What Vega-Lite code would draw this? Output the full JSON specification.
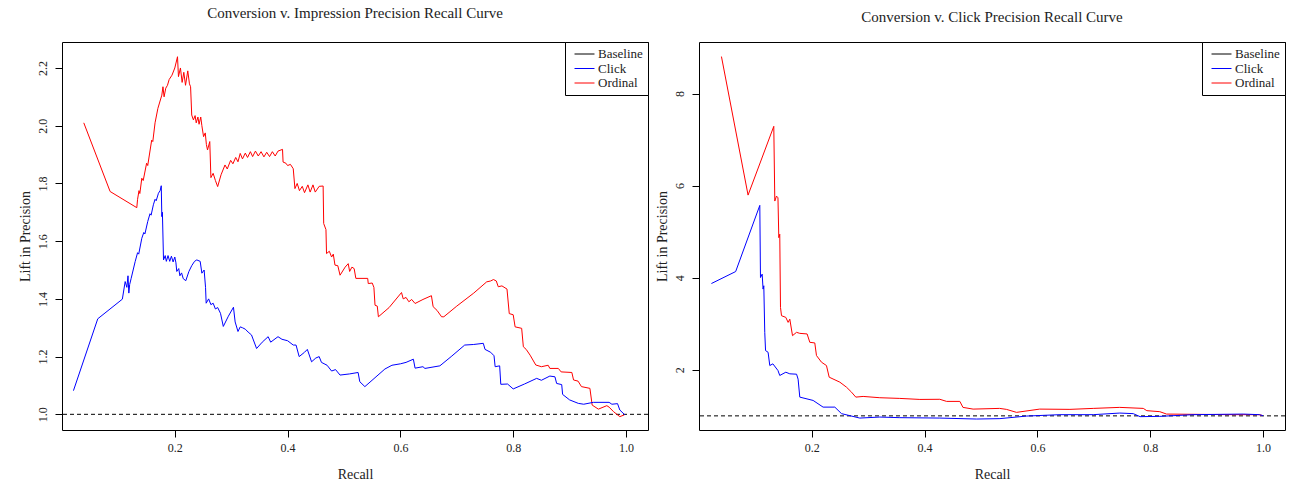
{
  "$schema": "https://vega.github.io/schema/vega-lite/v6.json",
  "padding": {"left": 17, "top": 5, "right": 8, "bottom": 4},
  "background": "white",
  "config": {
    "font": "Liberation Serif",
    "view": {"stroke": "black", "strokeWidth": 1},
    "axis": {"domain": false, "grid": false, "tickColor": "black", "tickSize": 7, "labelFont": "Liberation Serif", "labelFontSize": 12, "labelColor": "#222", "titleFont": "Liberation Serif", "titleFontSize": 14, "titleFontWeight": "normal", "titleColor": "#222"},
    "axisX": {"labelPadding": 5, "titleY": 44, "titleBaseline": "middle"},
    "axisY": {"labelAngle": -90, "labelAlign": "center", "labelBaseline": "bottom", "labelPadding": 6, "titleX": -37, "titleBaseline": "middle"},
    "title": {"font": "Liberation Serif", "fontSize": 15, "fontWeight": "normal", "color": "#222", "anchor": "middle"},
    "legend": {"orient": "top-right", "offset": 0, "strokeColor": "black", "fillColor": "white", "padding": 5, "labelFont": "Liberation Serif", "labelFontSize": 13, "labelColor": "#222", "symbolType": "M-0.38,0H2.69", "symbolSize": 169, "symbolStrokeWidth": 1, "symbolFillColor": "transparent", "rowPadding": 0.5, "labelOffset": 14, "cornerRadius": 0}
  },
  "datasets": {
    "imp": [
      {"series":"Ordinal","recall":0.0386,"lift":2.010,"order":1},
      {"series":"Ordinal","recall":0.0853,"lift":1.772,"order":2},
      {"series":"Ordinal","recall":0.1326,"lift":1.716,"order":3},
      {"series":"Ordinal","recall":0.1340,"lift":1.745,"order":4},
      {"series":"Ordinal","recall":0.1365,"lift":1.775,"order":5},
      {"series":"Ordinal","recall":0.1380,"lift":1.765,"order":6},
      {"series":"Ordinal","recall":0.1415,"lift":1.818,"order":7},
      {"series":"Ordinal","recall":0.1440,"lift":1.810,"order":8},
      {"series":"Ordinal","recall":0.1500,"lift":1.870,"order":9},
      {"series":"Ordinal","recall":0.1520,"lift":1.862,"order":10},
      {"series":"Ordinal","recall":0.1590,"lift":1.950,"order":11},
      {"series":"Ordinal","recall":0.1610,"lift":1.945,"order":12},
      {"series":"Ordinal","recall":0.1650,"lift":2.010,"order":13},
      {"series":"Ordinal","recall":0.1700,"lift":2.060,"order":14},
      {"series":"Ordinal","recall":0.1770,"lift":2.106,"order":15},
      {"series":"Ordinal","recall":0.1790,"lift":2.135,"order":16},
      {"series":"Ordinal","recall":0.1810,"lift":2.100,"order":17},
      {"series":"Ordinal","recall":0.1840,"lift":2.130,"order":18},
      {"series":"Ordinal","recall":0.1870,"lift":2.140,"order":19},
      {"series":"Ordinal","recall":0.1900,"lift":2.160,"order":20},
      {"series":"Ordinal","recall":0.1950,"lift":2.175,"order":21},
      {"series":"Ordinal","recall":0.2000,"lift":2.200,"order":22},
      {"series":"Ordinal","recall":0.2048,"lift":2.239,"order":23},
      {"series":"Ordinal","recall":0.2065,"lift":2.170,"order":24},
      {"series":"Ordinal","recall":0.2100,"lift":2.200,"order":25},
      {"series":"Ordinal","recall":0.2130,"lift":2.150,"order":26},
      {"series":"Ordinal","recall":0.2160,"lift":2.185,"order":27},
      {"series":"Ordinal","recall":0.2190,"lift":2.140,"order":28},
      {"series":"Ordinal","recall":0.2230,"lift":2.190,"order":29},
      {"series":"Ordinal","recall":0.2260,"lift":2.145,"order":30},
      {"series":"Ordinal","recall":0.2280,"lift":2.135,"order":31},
      {"series":"Ordinal","recall":0.2300,"lift":2.037,"order":32},
      {"series":"Ordinal","recall":0.2330,"lift":2.020,"order":33},
      {"series":"Ordinal","recall":0.2360,"lift":2.035,"order":34},
      {"series":"Ordinal","recall":0.2380,"lift":2.010,"order":35},
      {"series":"Ordinal","recall":0.2410,"lift":2.030,"order":36},
      {"series":"Ordinal","recall":0.2430,"lift":2.005,"order":37},
      {"series":"Ordinal","recall":0.2460,"lift":2.030,"order":38},
      {"series":"Ordinal","recall":0.2480,"lift":2.000,"order":39},
      {"series":"Ordinal","recall":0.2510,"lift":1.962,"order":40},
      {"series":"Ordinal","recall":0.2540,"lift":1.975,"order":41},
      {"series":"Ordinal","recall":0.2560,"lift":1.935,"order":42},
      {"series":"Ordinal","recall":0.2580,"lift":1.916,"order":43},
      {"series":"Ordinal","recall":0.2620,"lift":1.945,"order":44},
      {"series":"Ordinal","recall":0.2640,"lift":1.820,"order":45},
      {"series":"Ordinal","recall":0.2680,"lift":1.835,"order":46},
      {"series":"Ordinal","recall":0.2720,"lift":1.810,"order":47},
      {"series":"Ordinal","recall":0.2760,"lift":1.789,"order":48},
      {"series":"Ordinal","recall":0.2820,"lift":1.830,"order":49},
      {"series":"Ordinal","recall":0.2890,"lift":1.864,"order":50},
      {"series":"Ordinal","recall":0.2930,"lift":1.850,"order":51},
      {"series":"Ordinal","recall":0.2990,"lift":1.880,"order":52},
      {"series":"Ordinal","recall":0.3030,"lift":1.868,"order":53},
      {"series":"Ordinal","recall":0.3080,"lift":1.890,"order":54},
      {"series":"Ordinal","recall":0.3120,"lift":1.875,"order":55},
      {"series":"Ordinal","recall":0.3160,"lift":1.904,"order":56},
      {"series":"Ordinal","recall":0.3200,"lift":1.885,"order":57},
      {"series":"Ordinal","recall":0.3250,"lift":1.905,"order":58},
      {"series":"Ordinal","recall":0.3290,"lift":1.890,"order":59},
      {"series":"Ordinal","recall":0.3340,"lift":1.910,"order":60},
      {"series":"Ordinal","recall":0.3380,"lift":1.893,"order":61},
      {"series":"Ordinal","recall":0.3430,"lift":1.912,"order":62},
      {"series":"Ordinal","recall":0.3480,"lift":1.895,"order":63},
      {"series":"Ordinal","recall":0.3530,"lift":1.910,"order":64},
      {"series":"Ordinal","recall":0.3580,"lift":1.892,"order":65},
      {"series":"Ordinal","recall":0.3630,"lift":1.908,"order":66},
      {"series":"Ordinal","recall":0.3680,"lift":1.893,"order":67},
      {"series":"Ordinal","recall":0.3730,"lift":1.910,"order":68},
      {"series":"Ordinal","recall":0.3780,"lift":1.895,"order":69},
      {"series":"Ordinal","recall":0.3830,"lift":1.912,"order":70},
      {"series":"Ordinal","recall":0.3910,"lift":1.918,"order":71},
      {"series":"Ordinal","recall":0.3920,"lift":1.874,"order":72},
      {"series":"Ordinal","recall":0.3970,"lift":1.870,"order":73},
      {"series":"Ordinal","recall":0.4000,"lift":1.862,"order":74},
      {"series":"Ordinal","recall":0.4050,"lift":1.866,"order":75},
      {"series":"Ordinal","recall":0.4100,"lift":1.851,"order":76},
      {"series":"Ordinal","recall":0.4130,"lift":1.782,"order":77},
      {"series":"Ordinal","recall":0.4170,"lift":1.800,"order":78},
      {"series":"Ordinal","recall":0.4210,"lift":1.775,"order":79},
      {"series":"Ordinal","recall":0.4260,"lift":1.790,"order":80},
      {"series":"Ordinal","recall":0.4300,"lift":1.768,"order":81},
      {"series":"Ordinal","recall":0.4360,"lift":1.795,"order":82},
      {"series":"Ordinal","recall":0.4400,"lift":1.770,"order":83},
      {"series":"Ordinal","recall":0.4450,"lift":1.795,"order":84},
      {"series":"Ordinal","recall":0.4490,"lift":1.770,"order":85},
      {"series":"Ordinal","recall":0.4560,"lift":1.790,"order":86},
      {"series":"Ordinal","recall":0.4630,"lift":1.791,"order":87},
      {"series":"Ordinal","recall":0.4640,"lift":1.661,"order":88},
      {"series":"Ordinal","recall":0.4680,"lift":1.640,"order":89},
      {"series":"Ordinal","recall":0.4690,"lift":1.557,"order":90},
      {"series":"Ordinal","recall":0.4740,"lift":1.565,"order":91},
      {"series":"Ordinal","recall":0.4780,"lift":1.545,"order":92},
      {"series":"Ordinal","recall":0.4810,"lift":1.555,"order":93},
      {"series":"Ordinal","recall":0.4840,"lift":1.517,"order":94},
      {"series":"Ordinal","recall":0.4890,"lift":1.515,"order":95},
      {"series":"Ordinal","recall":0.4930,"lift":1.482,"order":96},
      {"series":"Ordinal","recall":0.5020,"lift":1.510,"order":97},
      {"series":"Ordinal","recall":0.5075,"lift":1.522,"order":98},
      {"series":"Ordinal","recall":0.5100,"lift":1.495,"order":99},
      {"series":"Ordinal","recall":0.5140,"lift":1.510,"order":100},
      {"series":"Ordinal","recall":0.5180,"lift":1.505,"order":101},
      {"series":"Ordinal","recall":0.5210,"lift":1.471,"order":102},
      {"series":"Ordinal","recall":0.5420,"lift":1.471,"order":103},
      {"series":"Ordinal","recall":0.5430,"lift":1.453,"order":104},
      {"series":"Ordinal","recall":0.5500,"lift":1.455,"order":105},
      {"series":"Ordinal","recall":0.5530,"lift":1.440,"order":106},
      {"series":"Ordinal","recall":0.5550,"lift":1.378,"order":107},
      {"series":"Ordinal","recall":0.5590,"lift":1.375,"order":108},
      {"series":"Ordinal","recall":0.5610,"lift":1.338,"order":109},
      {"series":"Ordinal","recall":0.5800,"lift":1.370,"order":110},
      {"series":"Ordinal","recall":0.6020,"lift":1.422,"order":111},
      {"series":"Ordinal","recall":0.6050,"lift":1.400,"order":112},
      {"series":"Ordinal","recall":0.6100,"lift":1.405,"order":113},
      {"series":"Ordinal","recall":0.6150,"lift":1.390,"order":114},
      {"series":"Ordinal","recall":0.6200,"lift":1.398,"order":115},
      {"series":"Ordinal","recall":0.6260,"lift":1.384,"order":116},
      {"series":"Ordinal","recall":0.6400,"lift":1.398,"order":117},
      {"series":"Ordinal","recall":0.6550,"lift":1.411,"order":118},
      {"series":"Ordinal","recall":0.6580,"lift":1.373,"order":119},
      {"series":"Ordinal","recall":0.6650,"lift":1.360,"order":120},
      {"series":"Ordinal","recall":0.6730,"lift":1.338,"order":121},
      {"series":"Ordinal","recall":0.6770,"lift":1.338,"order":122},
      {"series":"Ordinal","recall":0.7000,"lift":1.375,"order":123},
      {"series":"Ordinal","recall":0.7300,"lift":1.420,"order":124},
      {"series":"Ordinal","recall":0.7530,"lift":1.459,"order":125},
      {"series":"Ordinal","recall":0.7600,"lift":1.462,"order":126},
      {"series":"Ordinal","recall":0.7650,"lift":1.467,"order":127},
      {"series":"Ordinal","recall":0.7700,"lift":1.462,"order":128},
      {"series":"Ordinal","recall":0.7735,"lift":1.442,"order":129},
      {"series":"Ordinal","recall":0.7800,"lift":1.445,"order":130},
      {"series":"Ordinal","recall":0.7890,"lift":1.434,"order":131},
      {"series":"Ordinal","recall":0.7930,"lift":1.349,"order":132},
      {"series":"Ordinal","recall":0.8000,"lift":1.345,"order":133},
      {"series":"Ordinal","recall":0.8034,"lift":1.303,"order":134},
      {"series":"Ordinal","recall":0.8150,"lift":1.298,"order":135},
      {"series":"Ordinal","recall":0.8180,"lift":1.234,"order":136},
      {"series":"Ordinal","recall":0.8230,"lift":1.225,"order":137},
      {"series":"Ordinal","recall":0.8300,"lift":1.205,"order":138},
      {"series":"Ordinal","recall":0.8400,"lift":1.171,"order":139},
      {"series":"Ordinal","recall":0.8500,"lift":1.165,"order":140},
      {"series":"Ordinal","recall":0.8620,"lift":1.170,"order":141},
      {"series":"Ordinal","recall":0.8650,"lift":1.159,"order":142},
      {"series":"Ordinal","recall":0.8800,"lift":1.159,"order":143},
      {"series":"Ordinal","recall":0.8850,"lift":1.147,"order":144},
      {"series":"Ordinal","recall":0.9040,"lift":1.145,"order":145},
      {"series":"Ordinal","recall":0.9070,"lift":1.119,"order":146},
      {"series":"Ordinal","recall":0.9150,"lift":1.115,"order":147},
      {"series":"Ordinal","recall":0.9210,"lift":1.096,"order":148},
      {"series":"Ordinal","recall":0.9360,"lift":1.090,"order":149},
      {"series":"Ordinal","recall":0.9400,"lift":1.032,"order":150},
      {"series":"Ordinal","recall":0.9510,"lift":1.018,"order":151},
      {"series":"Ordinal","recall":0.9660,"lift":1.030,"order":152},
      {"series":"Ordinal","recall":0.9700,"lift":1.025,"order":153},
      {"series":"Ordinal","recall":0.9780,"lift":1.009,"order":154},
      {"series":"Ordinal","recall":0.9890,"lift":0.992,"order":155},
      {"series":"Ordinal","recall":0.9970,"lift":0.998,"order":156},
      {"series":"Click","recall":0.0203,"lift":1.082,"order":1},
      {"series":"Click","recall":0.0634,"lift":1.331,"order":2},
      {"series":"Click","recall":0.1070,"lift":1.399,"order":3},
      {"series":"Click","recall":0.1120,"lift":1.460,"order":4},
      {"series":"Click","recall":0.1150,"lift":1.440,"order":5},
      {"series":"Click","recall":0.1170,"lift":1.480,"order":6},
      {"series":"Click","recall":0.1185,"lift":1.420,"order":7},
      {"series":"Click","recall":0.1200,"lift":1.450,"order":8},
      {"series":"Click","recall":0.1225,"lift":1.470,"order":9},
      {"series":"Click","recall":0.1297,"lift":1.529,"order":10},
      {"series":"Click","recall":0.1340,"lift":1.560,"order":11},
      {"series":"Click","recall":0.1360,"lift":1.555,"order":12},
      {"series":"Click","recall":0.1415,"lift":1.610,"order":13},
      {"series":"Click","recall":0.1450,"lift":1.630,"order":14},
      {"series":"Click","recall":0.1470,"lift":1.625,"order":15},
      {"series":"Click","recall":0.1520,"lift":1.668,"order":16},
      {"series":"Click","recall":0.1560,"lift":1.695,"order":17},
      {"series":"Click","recall":0.1580,"lift":1.690,"order":18},
      {"series":"Click","recall":0.1620,"lift":1.726,"order":19},
      {"series":"Click","recall":0.1650,"lift":1.745,"order":20},
      {"series":"Click","recall":0.1670,"lift":1.740,"order":21},
      {"series":"Click","recall":0.1710,"lift":1.766,"order":22},
      {"series":"Click","recall":0.1740,"lift":1.775,"order":23},
      {"series":"Click","recall":0.1760,"lift":1.792,"order":24},
      {"series":"Click","recall":0.1770,"lift":1.685,"order":25},
      {"series":"Click","recall":0.1780,"lift":1.700,"order":26},
      {"series":"Click","recall":0.1800,"lift":1.535,"order":27},
      {"series":"Click","recall":0.1830,"lift":1.550,"order":28},
      {"series":"Click","recall":0.1850,"lift":1.530,"order":29},
      {"series":"Click","recall":0.1880,"lift":1.550,"order":30},
      {"series":"Click","recall":0.1910,"lift":1.530,"order":31},
      {"series":"Click","recall":0.1940,"lift":1.548,"order":32},
      {"series":"Click","recall":0.1970,"lift":1.528,"order":33},
      {"series":"Click","recall":0.2000,"lift":1.545,"order":34},
      {"series":"Click","recall":0.2020,"lift":1.525,"order":35},
      {"series":"Click","recall":0.2035,"lift":1.495,"order":36},
      {"series":"Click","recall":0.2070,"lift":1.505,"order":37},
      {"series":"Click","recall":0.2090,"lift":1.480,"order":38},
      {"series":"Click","recall":0.2120,"lift":1.490,"order":39},
      {"series":"Click","recall":0.2150,"lift":1.470,"order":40},
      {"series":"Click","recall":0.2195,"lift":1.463,"order":41},
      {"series":"Click","recall":0.2250,"lift":1.495,"order":42},
      {"series":"Click","recall":0.2300,"lift":1.515,"order":43},
      {"series":"Click","recall":0.2350,"lift":1.530,"order":44},
      {"series":"Click","recall":0.2390,"lift":1.535,"order":45},
      {"series":"Click","recall":0.2450,"lift":1.530,"order":46},
      {"series":"Click","recall":0.2480,"lift":1.489,"order":47},
      {"series":"Click","recall":0.2520,"lift":1.500,"order":48},
      {"series":"Click","recall":0.2545,"lift":1.440,"order":49},
      {"series":"Click","recall":0.2556,"lift":1.385,"order":50},
      {"series":"Click","recall":0.2600,"lift":1.400,"order":51},
      {"series":"Click","recall":0.2640,"lift":1.380,"order":52},
      {"series":"Click","recall":0.2680,"lift":1.385,"order":53},
      {"series":"Click","recall":0.2720,"lift":1.365,"order":54},
      {"series":"Click","recall":0.2760,"lift":1.370,"order":55},
      {"series":"Click","recall":0.2810,"lift":1.350,"order":56},
      {"series":"Click","recall":0.2860,"lift":1.3045,"order":57},
      {"series":"Click","recall":0.2950,"lift":1.340,"order":58},
      {"series":"Click","recall":0.3040,"lift":1.371,"order":59},
      {"series":"Click","recall":0.3070,"lift":1.320,"order":60},
      {"series":"Click","recall":0.3120,"lift":1.287,"order":61},
      {"series":"Click","recall":0.3160,"lift":1.303,"order":62},
      {"series":"Click","recall":0.3200,"lift":1.300,"order":63},
      {"series":"Click","recall":0.3250,"lift":1.295,"order":64},
      {"series":"Click","recall":0.3300,"lift":1.285,"order":65},
      {"series":"Click","recall":0.3360,"lift":1.275,"order":66},
      {"series":"Click","recall":0.3450,"lift":1.228,"order":67},
      {"series":"Click","recall":0.3550,"lift":1.250,"order":68},
      {"series":"Click","recall":0.3655,"lift":1.269,"order":69},
      {"series":"Click","recall":0.3700,"lift":1.250,"order":70},
      {"series":"Click","recall":0.3830,"lift":1.269,"order":71},
      {"series":"Click","recall":0.3900,"lift":1.260,"order":72},
      {"series":"Click","recall":0.4000,"lift":1.255,"order":73},
      {"series":"Click","recall":0.4100,"lift":1.240,"order":74},
      {"series":"Click","recall":0.4150,"lift":1.240,"order":75},
      {"series":"Click","recall":0.4205,"lift":1.200,"order":76},
      {"series":"Click","recall":0.4300,"lift":1.215,"order":77},
      {"series":"Click","recall":0.4350,"lift":1.225,"order":78},
      {"series":"Click","recall":0.4425,"lift":1.182,"order":79},
      {"series":"Click","recall":0.4500,"lift":1.195,"order":80},
      {"series":"Click","recall":0.4560,"lift":1.200,"order":81},
      {"series":"Click","recall":0.4600,"lift":1.180,"order":82},
      {"series":"Click","recall":0.4700,"lift":1.170,"order":83},
      {"series":"Click","recall":0.4780,"lift":1.150,"order":84},
      {"series":"Click","recall":0.4850,"lift":1.155,"order":85},
      {"series":"Click","recall":0.4930,"lift":1.136,"order":86},
      {"series":"Click","recall":0.5100,"lift":1.140,"order":87},
      {"series":"Click","recall":0.5250,"lift":1.145,"order":88},
      {"series":"Click","recall":0.5280,"lift":1.113,"order":89},
      {"series":"Click","recall":0.5370,"lift":1.096,"order":90},
      {"series":"Click","recall":0.5725,"lift":1.157,"order":91},
      {"series":"Click","recall":0.5850,"lift":1.170,"order":92},
      {"series":"Click","recall":0.6000,"lift":1.175,"order":93},
      {"series":"Click","recall":0.6100,"lift":1.180,"order":94},
      {"series":"Click","recall":0.6230,"lift":1.191,"order":95},
      {"series":"Click","recall":0.6260,"lift":1.160,"order":96},
      {"series":"Click","recall":0.6400,"lift":1.165,"order":97},
      {"series":"Click","recall":0.6435,"lift":1.159,"order":98},
      {"series":"Click","recall":0.6700,"lift":1.168,"order":99},
      {"series":"Click","recall":0.6900,"lift":1.200,"order":100},
      {"series":"Click","recall":0.7140,"lift":1.240,"order":101},
      {"series":"Click","recall":0.7300,"lift":1.242,"order":102},
      {"series":"Click","recall":0.7470,"lift":1.246,"order":103},
      {"series":"Click","recall":0.7500,"lift":1.225,"order":104},
      {"series":"Click","recall":0.7600,"lift":1.215,"order":105},
      {"series":"Click","recall":0.7660,"lift":1.203,"order":106},
      {"series":"Click","recall":0.7680,"lift":1.165,"order":107},
      {"series":"Click","recall":0.7760,"lift":1.168,"order":108},
      {"series":"Click","recall":0.7780,"lift":1.104,"order":109},
      {"series":"Click","recall":0.7900,"lift":1.105,"order":110},
      {"series":"Click","recall":0.8000,"lift":1.088,"order":111},
      {"series":"Click","recall":0.8200,"lift":1.105,"order":112},
      {"series":"Click","recall":0.8416,"lift":1.1246,"order":113},
      {"series":"Click","recall":0.8500,"lift":1.118,"order":114},
      {"series":"Click","recall":0.8650,"lift":1.1326,"order":115},
      {"series":"Click","recall":0.8740,"lift":1.130,"order":116},
      {"series":"Click","recall":0.8770,"lift":1.107,"order":117},
      {"series":"Click","recall":0.8860,"lift":1.103,"order":118},
      {"series":"Click","recall":0.8876,"lift":1.069,"order":119},
      {"series":"Click","recall":0.9000,"lift":1.050,"order":120},
      {"series":"Click","recall":0.9154,"lift":1.038,"order":121},
      {"series":"Click","recall":0.9250,"lift":1.035,"order":122},
      {"series":"Click","recall":0.9420,"lift":1.0415,"order":123},
      {"series":"Click","recall":0.9700,"lift":1.0415,"order":124},
      {"series":"Click","recall":0.9750,"lift":1.035,"order":125},
      {"series":"Click","recall":0.9850,"lift":1.037,"order":126},
      {"series":"Click","recall":0.9890,"lift":1.015,"order":127},
      {"series":"Click","recall":0.9980,"lift":0.998,"order":128}
    ],
    "clk": [
      {"series":"Ordinal","recall":0.0398,"lift":8.803,"order":1},
      {"series":"Ordinal","recall":0.0870,"lift":5.794,"order":2},
      {"series":"Ordinal","recall":0.1326,"lift":7.288,"order":3},
      {"series":"Ordinal","recall":0.1344,"lift":5.665,"order":4},
      {"series":"Ordinal","recall":0.1374,"lift":5.773,"order":5},
      {"series":"Ordinal","recall":0.1400,"lift":5.736,"order":6},
      {"series":"Ordinal","recall":0.1415,"lift":4.870,"order":7},
      {"series":"Ordinal","recall":0.1432,"lift":4.944,"order":8},
      {"series":"Ordinal","recall":0.1445,"lift":3.355,"order":9},
      {"series":"Ordinal","recall":0.1463,"lift":3.175,"order":10},
      {"series":"Ordinal","recall":0.1539,"lift":3.139,"order":11},
      {"series":"Ordinal","recall":0.1580,"lift":3.030,"order":12},
      {"series":"Ordinal","recall":0.1610,"lift":3.100,"order":13},
      {"series":"Ordinal","recall":0.1658,"lift":2.742,"order":14},
      {"series":"Ordinal","recall":0.1729,"lift":2.814,"order":15},
      {"series":"Ordinal","recall":0.1787,"lift":2.792,"order":16},
      {"series":"Ordinal","recall":0.1917,"lift":2.779,"order":17},
      {"series":"Ordinal","recall":0.1965,"lift":2.597,"order":18},
      {"series":"Ordinal","recall":0.2053,"lift":2.584,"order":19},
      {"series":"Ordinal","recall":0.2083,"lift":2.310,"order":20},
      {"series":"Ordinal","recall":0.2172,"lift":2.165,"order":21},
      {"series":"Ordinal","recall":0.2260,"lift":2.093,"order":22},
      {"series":"Ordinal","recall":0.2308,"lift":1.840,"order":23},
      {"series":"Ordinal","recall":0.2497,"lift":1.732,"order":24},
      {"series":"Ordinal","recall":0.2615,"lift":1.623,"order":25},
      {"series":"Ordinal","recall":0.2704,"lift":1.515,"order":26},
      {"series":"Ordinal","recall":0.2780,"lift":1.407,"order":27},
      {"series":"Ordinal","recall":0.2910,"lift":1.422,"order":28},
      {"series":"Ordinal","recall":0.3206,"lift":1.394,"order":29},
      {"series":"Ordinal","recall":0.3560,"lift":1.379,"order":30},
      {"series":"Ordinal","recall":0.3916,"lift":1.357,"order":31},
      {"series":"Ordinal","recall":0.4270,"lift":1.360,"order":32},
      {"series":"Ordinal","recall":0.4390,"lift":1.314,"order":33},
      {"series":"Ordinal","recall":0.4625,"lift":1.314,"order":34},
      {"series":"Ordinal","recall":0.4680,"lift":1.184,"order":35},
      {"series":"Ordinal","recall":0.4860,"lift":1.147,"order":36},
      {"series":"Ordinal","recall":0.5330,"lift":1.162,"order":37},
      {"series":"Ordinal","recall":0.5450,"lift":1.141,"order":38},
      {"series":"Ordinal","recall":0.5630,"lift":1.076,"order":39},
      {"series":"Ordinal","recall":0.6040,"lift":1.147,"order":40},
      {"series":"Ordinal","recall":0.6577,"lift":1.141,"order":41},
      {"series":"Ordinal","recall":0.6990,"lift":1.162,"order":42},
      {"series":"Ordinal","recall":0.7460,"lift":1.184,"order":43},
      {"series":"Ordinal","recall":0.7877,"lift":1.162,"order":44},
      {"series":"Ordinal","recall":0.7940,"lift":1.113,"order":45},
      {"series":"Ordinal","recall":0.8170,"lift":1.091,"order":46},
      {"series":"Ordinal","recall":0.8290,"lift":1.039,"order":47},
      {"series":"Ordinal","recall":0.8880,"lift":1.032,"order":48},
      {"series":"Ordinal","recall":0.9470,"lift":1.026,"order":49},
      {"series":"Ordinal","recall":0.9930,"lift":1.026,"order":50},
      {"series":"Ordinal","recall":1.0000,"lift":1.004,"order":51},
      {"series":"Click","recall":0.0220,"lift":3.874,"order":1},
      {"series":"Click","recall":0.0650,"lift":4.134,"order":2},
      {"series":"Click","recall":0.1078,"lift":5.571,"order":3},
      {"series":"Click","recall":0.1090,"lift":4.004,"order":4},
      {"series":"Click","recall":0.1120,"lift":4.078,"order":5},
      {"series":"Click","recall":0.1136,"lift":3.753,"order":6},
      {"series":"Click","recall":0.1149,"lift":3.825,"order":7},
      {"series":"Click","recall":0.1166,"lift":2.814,"order":8},
      {"series":"Click","recall":0.1180,"lift":2.418,"order":9},
      {"series":"Click","recall":0.1225,"lift":2.381,"order":10},
      {"series":"Click","recall":0.1255,"lift":2.093,"order":11},
      {"series":"Click","recall":0.1310,"lift":2.130,"order":12},
      {"series":"Click","recall":0.1400,"lift":1.985,"order":13},
      {"series":"Click","recall":0.1432,"lift":1.877,"order":14},
      {"series":"Click","recall":0.1539,"lift":1.948,"order":15},
      {"series":"Click","recall":0.1610,"lift":1.913,"order":16},
      {"series":"Click","recall":0.1730,"lift":1.905,"order":17},
      {"series":"Click","recall":0.1757,"lift":1.797,"order":18},
      {"series":"Click","recall":0.1787,"lift":1.407,"order":19},
      {"series":"Click","recall":0.2023,"lift":1.335,"order":20},
      {"series":"Click","recall":0.2200,"lift":1.190,"order":21},
      {"series":"Click","recall":0.2408,"lift":1.190,"order":22},
      {"series":"Click","recall":0.2527,"lift":1.048,"order":23},
      {"series":"Click","recall":0.2850,"lift":0.952,"order":24},
      {"series":"Click","recall":0.3206,"lift":0.974,"order":25},
      {"series":"Click","recall":0.3560,"lift":0.961,"order":26},
      {"series":"Click","recall":0.4270,"lift":0.952,"order":27},
      {"series":"Click","recall":0.4920,"lift":0.931,"order":28},
      {"series":"Click","recall":0.5335,"lift":0.940,"order":29},
      {"series":"Click","recall":0.5810,"lift":0.996,"order":30},
      {"series":"Click","recall":0.6400,"lift":1.026,"order":31},
      {"series":"Click","recall":0.6990,"lift":1.026,"order":32},
      {"series":"Click","recall":0.7460,"lift":1.061,"order":33},
      {"series":"Click","recall":0.7700,"lift":1.048,"order":34},
      {"series":"Click","recall":0.7820,"lift":0.983,"order":35},
      {"series":"Click","recall":0.8170,"lift":0.989,"order":36},
      {"series":"Click","recall":0.8760,"lift":1.026,"order":37},
      {"series":"Click","recall":0.9650,"lift":1.039,"order":38},
      {"series":"Click","recall":0.9937,"lift":1.026,"order":39},
      {"series":"Click","recall":1.0000,"lift":1.004,"order":40}
    ]
  },
  "spacing": 51,
  "bounds": "flush",
  "resolve": {"scale": {"color": "independent", "x": "independent", "y": "independent"}, "legend": {"color": "independent"}},
  "hconcat": [
    {
      "width": 586,
      "height": 388,
      "title": {"text": "Conversion v. Impression Precision Recall Curve", "offset": 21},
      "data": {"name": "imp"},
      "layer": [
        {
          "data": {"values": [{"base": 1}]},
          "mark": {"type": "rule", "strokeDash": [4, 3], "color": "black", "strokeWidth": 1},
          "encoding": {"y": {"field": "base", "type": "quantitative", "title": "Lift in Precision"}}
        },
        {
          "mark": {"type": "line", "strokeWidth": 1, "clip": true},
          "encoding": {
            "x": {"field": "recall", "type": "quantitative", "title": "Recall", "scale": {"domain": [0, 1.039], "nice": false, "zero": false}, "axis": {"values": [0.2, 0.4, 0.6, 0.8, 1.0], "format": ".1f"}},
            "y": {"field": "lift", "type": "quantitative", "title": "Lift in Precision", "scale": {"domain": [0.9457, 2.29], "nice": false, "zero": false}, "axis": {"values": [1.0, 1.2, 1.4, 1.6, 1.8, 2.0, 2.2], "format": ".1f"}},
            "color": {"field": "series", "type": "nominal", "scale": {"domain": ["Baseline", "Click", "Ordinal"], "range": ["black", "#0000ff", "#ff0000"]}, "legend": {"title": null}},
            "order": {"field": "order", "type": "quantitative"}
          }
        }
      ]
    },
    {
      "width": 586,
      "height": 388,
      "title": {"text": "Conversion v. Click Precision Recall Curve", "offset": 17},
      "data": {"name": "clk"},
      "layer": [
        {
          "data": {"values": [{"base": 1}]},
          "mark": {"type": "rule", "strokeDash": [4, 3], "color": "black", "strokeWidth": 1},
          "encoding": {"y": {"field": "base", "type": "quantitative", "title": "Lift in Precision"}}
        },
        {
          "mark": {"type": "line", "strokeWidth": 1, "clip": true},
          "encoding": {
            "x": {"field": "recall", "type": "quantitative", "title": "Recall", "scale": {"domain": [0, 1.039], "nice": false, "zero": false}, "axis": {"values": [0.2, 0.4, 0.6, 0.8, 1.0], "format": ".1f"}},
            "y": {"field": "lift", "type": "quantitative", "title": "Lift in Precision", "scale": {"domain": [0.693, 9.119], "nice": false, "zero": false}, "axis": {"values": [2, 4, 6, 8], "format": "d"}},
            "color": {"field": "series", "type": "nominal", "scale": {"domain": ["Baseline", "Click", "Ordinal"], "range": ["black", "#0000ff", "#ff0000"]}, "legend": {"title": null}},
            "order": {"field": "order", "type": "quantitative"}
          }
        }
      ]
    }
  ]
}
